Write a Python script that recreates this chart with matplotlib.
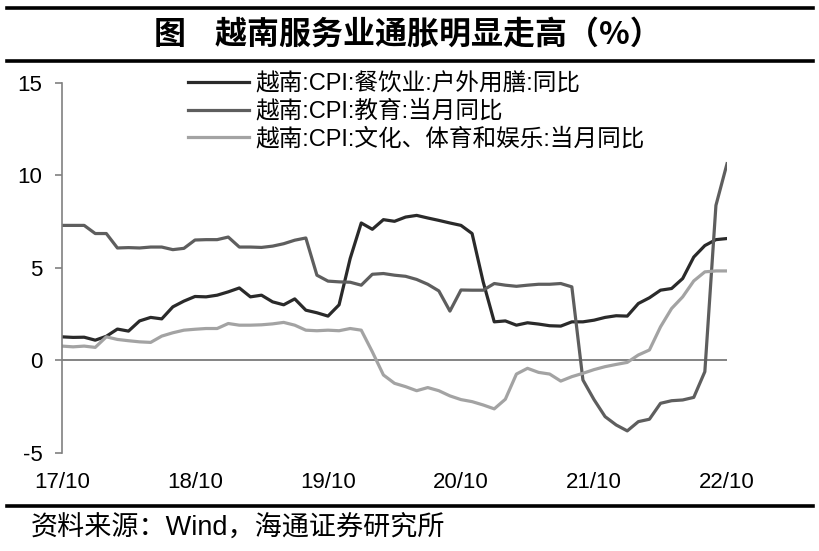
import numpy as np
import matplotlib
matplotlib.use("Agg")
import matplotlib.pyplot as plt
from matplotlib.lines import Line2D

plt.rcParams['font.family'] = ['Liberation Sans', 'Noto Sans CJK SC']
plt.rcParams['axes.unicode_minus'] = False

# monthly, 2017/10 .. 2022/10
tick_labels = ['17/10', '18/10', '19/10', '20/10', '21/10', '22/10']

dining = [1.27, 1.24, 1.25, 1.09, 1.3, 1.69, 1.58, 2.13, 2.32, 2.24,
          2.89, 3.2, 3.45, 3.43, 3.52, 3.7, 3.91, 3.43, 3.52, 3.16,
          3.0, 3.32, 2.71, 2.57, 2.39, 3.0, 5.5, 7.42, 7.08, 7.6,
          7.51, 7.74, 7.83, 7.69, 7.56, 7.42, 7.29, 6.85, 4.24, 2.08,
          2.13, 1.9, 2.03, 1.96, 1.87, 1.85, 2.08, 2.08, 2.17, 2.32,
          2.41, 2.39, 3.07, 3.38, 3.79, 3.88, 4.42, 5.58, 6.2, 6.52,
          6.58]
education = [7.29, 7.29, 7.29, 6.85, 6.85, 6.07, 6.09, 6.07, 6.12, 6.12,
             5.98, 6.05, 6.5, 6.52, 6.52, 6.66, 6.12, 6.12, 6.1, 6.17,
             6.3, 6.49, 6.61, 4.6, 4.28, 4.24, 4.22, 4.06, 4.65, 4.69,
             4.6, 4.54, 4.37, 4.11, 3.75, 2.66, 3.8, 3.79, 3.79, 4.15,
             4.06, 4.0, 4.06, 4.11, 4.11, 4.15, 3.97, -1.06, -2.12, -3.04,
             -3.49, -3.81, -3.31, -3.18, -2.32, -2.18, -2.14, -2.0, -0.61, 8.37,
             10.62]
culture = [0.77, 0.73, 0.77, 0.7, 1.27, 1.13, 1.06, 1.0, 0.97, 1.31,
           1.49, 1.63, 1.68, 1.72, 1.72, 1.99, 1.9, 1.9, 1.92, 1.97,
           2.05, 1.9, 1.63, 1.6, 1.63, 1.6, 1.72, 1.63, 0.46, -0.79,
           -1.24, -1.42, -1.64, -1.47, -1.64, -1.92, -2.12, -2.23, -2.41, -2.62,
           -2.1, -0.74, -0.43, -0.65, -0.74, -1.12, -0.88, -0.7, -0.5, -0.34,
           -0.22, -0.11, 0.29, 0.56, 1.81, 2.8, 3.43, 4.29, 4.78, 4.83,
           4.83]

names = ['越南:CPI:餐饮业:户外用膳:同比',
         '越南:CPI:教育:当月同比',
         '越南:CPI:文化、体育和娱乐:当月同比']
colors = ['#2a2a2a', '#5e5e5e', '#a3a3a3']

x = np.arange(len(dining))

fig = plt.figure(figsize=(8.2, 5.51), dpi=100)
ax = fig.add_axes([0.0756, 0.178, 0.811, 0.672])

for s, c, n in zip([dining, education, culture], colors, names):
    ax.plot(x, s, color=c, lw=2.3, label=n, solid_joinstyle='round')

ax.axhline(0, color='#6e6e6e', lw=1.2, zorder=0)
ax.set_xlim(0, 60)
ax.set_ylim(-5, 15)
ax.set_yticks([-5, 0, 5, 10, 15])
ax.set_xticks(np.arange(0, 61, 12))
ax.set_xticklabels(tick_labels)

for side in ['top', 'right', 'bottom']:
    ax.spines[side].set_visible(False)
ax.spines['left'].set_color('#808080')
ax.spines['left'].set_linewidth(1.2)
ax.tick_params(axis='y', direction='out', length=5, width=1.2, color='#808080',
               labelsize=16, pad=9)
ax.tick_params(axis='x', length=0, labelsize=16, pad=14)

leg = ax.legend(loc='upper left', bbox_to_anchor=(0.19, 1.026), frameon=False,
                fontsize=17, handlelength=2.55, handletextpad=0.3,
                labelspacing=0.2, borderaxespad=0, borderpad=0)

# title and frame lines
fig.add_artist(Line2D([0.008, 0.992], [0.985, 0.985], color='black', lw=2.6))
fig.add_artist(Line2D([0.008, 0.992], [0.889, 0.889], color='black', lw=2.6))
fig.add_artist(Line2D([0.008, 0.992], [0.082, 0.082], color='black', lw=2.6))
fig.text(0.497, 0.937, '图    越南服务业通胀明显走高（%）', ha='center', va='center',
         fontsize=23, fontweight='bold', family=['Noto Sans CJK SC'])
fig.text(0.037, 0.041, '资料来源：Wind，海通证券研究所', ha='left', va='center',
         fontsize=19.5)

fig.savefig('out.png', dpi=100)
